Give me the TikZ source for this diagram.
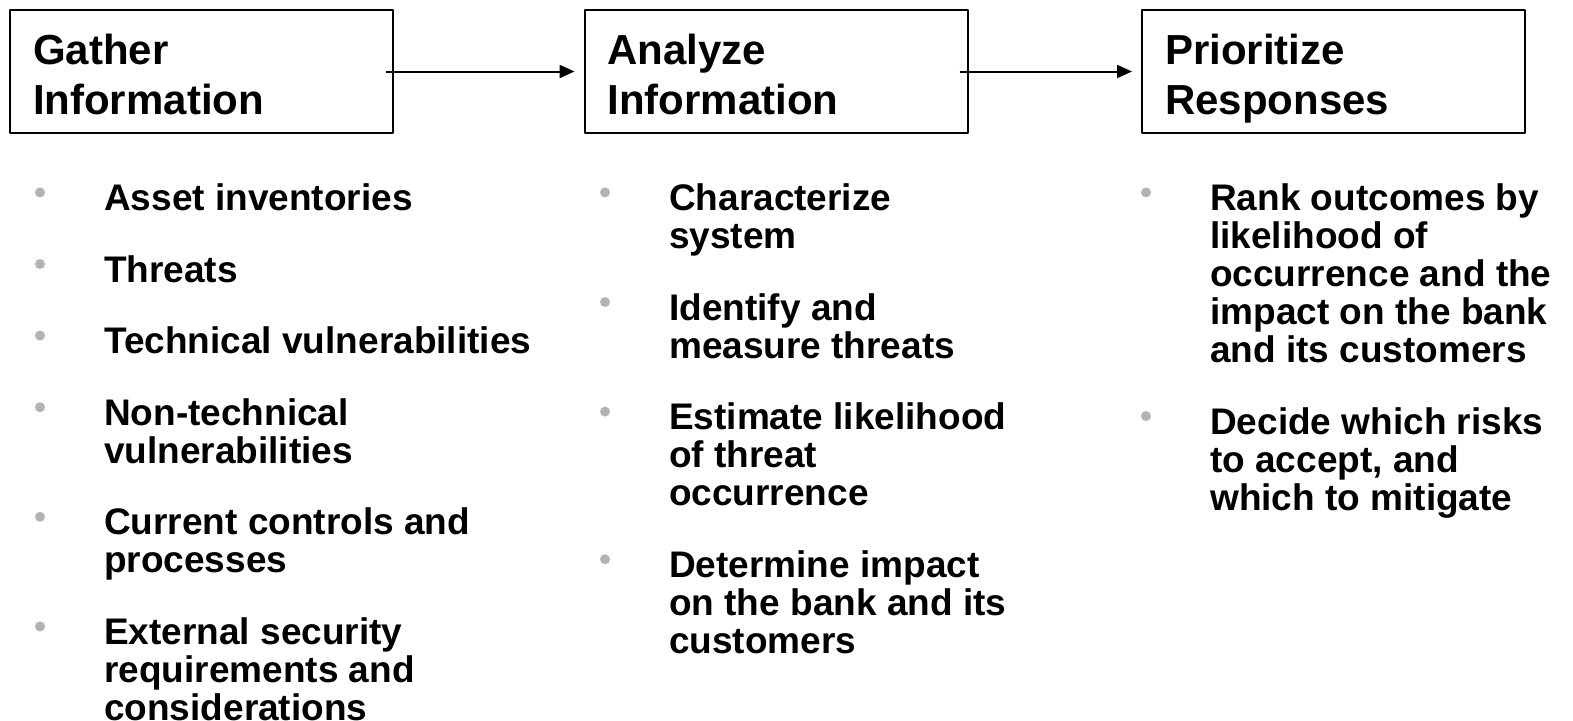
\documentclass[tikz,border=0pt]{standalone}
\usepackage{fontspec}
\setmainfont{Liberation Sans}
\usetikzlibrary{positioning,arrows.meta}
\definecolor{bulletgray}{HTML}{B3B3B3}
\tikzset{
  stagebox/.style={draw,line width=2pt,minimum width=383pt,minimum height=123pt,
    text width=337pt,align=left,inner xsep=23pt,inner ysep=0pt,
    font=\fontsize{42}{50}\selectfont\bfseries,
    execute at begin node={\rule{0pt}{45pt}},
    execute at end node={\rule[-10pt]{0pt}{10pt}}},
  item/.style={anchor=north west,inner sep=0pt,align=left,
    font=\fontsize{37}{38}\selectfont\bfseries,
    execute at begin node=\strut,execute at end node=\strut},
  flow/.style={-{Triangle[length=15pt,width=13pt]},line width=2pt},
}
\begin{document}
\begin{tikzpicture}[x=1pt,y=-1pt,line join=round]
	\useasboundingbox (0,0) rectangle (1573,720);
	% the three stages
	\node[stagebox] (gather) at (201.5,71.5) {Gather\\Information};
	\node[stagebox] (analyze) at (776,71.5) {Analyze\\Information};
	\node[stagebox] (prioritize) at (1333.5,71.5) {Prioritize\\Responses};
	\draw[flow] ([xshift=-8pt]gather.east)--([xshift=-9pt]analyze.west);
	\draw[flow] ([xshift=-9pt]analyze.east)--([xshift=-9pt]prioritize.west);
	% gather
	\node[item] (g1) at (104,183.4) {Asset inventories};
	\node[item,below right=33pt and 0pt of g1.south west] (g2) {Threats};
	\node[item,below right=33pt and 0pt of g2.south west] (g3) {Technical vulnerabilities};
	\node[item,below right=33pt and 0pt of g3.south west] (g4) {Non-technical\\vulnerabilities};
	\node[item,below right=33pt and 0pt of g4.south west] (g5) {Current controls and\\processes};
	\node[item,below right=33pt and 0pt of g5.south west] (g6) {External security\\requirements and\\considerations};
	% analyze
	\node[item] (a1) at (669,183.4) {Characterize\\system};
	\node[item,below right=33pt and 0pt of a1.south west] (a2) {Identify and\\measure threats};
	\node[item,below right=33pt and 0pt of a2.south west] (a3) {Estimate likelihood\\of threat\\occurrence};
	\node[item,below right=33pt and 0pt of a3.south west] (a4) {Determine impact\\on the bank and its\\customers};
	% prioritize
	\node[item] (p1) at (1210,183.4) {Rank outcomes by\\likelihood of\\occurrence and the\\impact on the bank\\and its customers};
	\node[item,below right=33pt and 0pt of p1.south west] (p2) {Decide which risks\\to accept, and\\which to mitigate};
	\foreach \n in {g1,g2,g3,g4,g5,g6,a1,a2,a3,a4,p1,p2}
		\fill[bulletgray] ([shift={(-64pt,-9pt)}]\n.north west) circle(5pt);
\end{tikzpicture}
\end{document}
